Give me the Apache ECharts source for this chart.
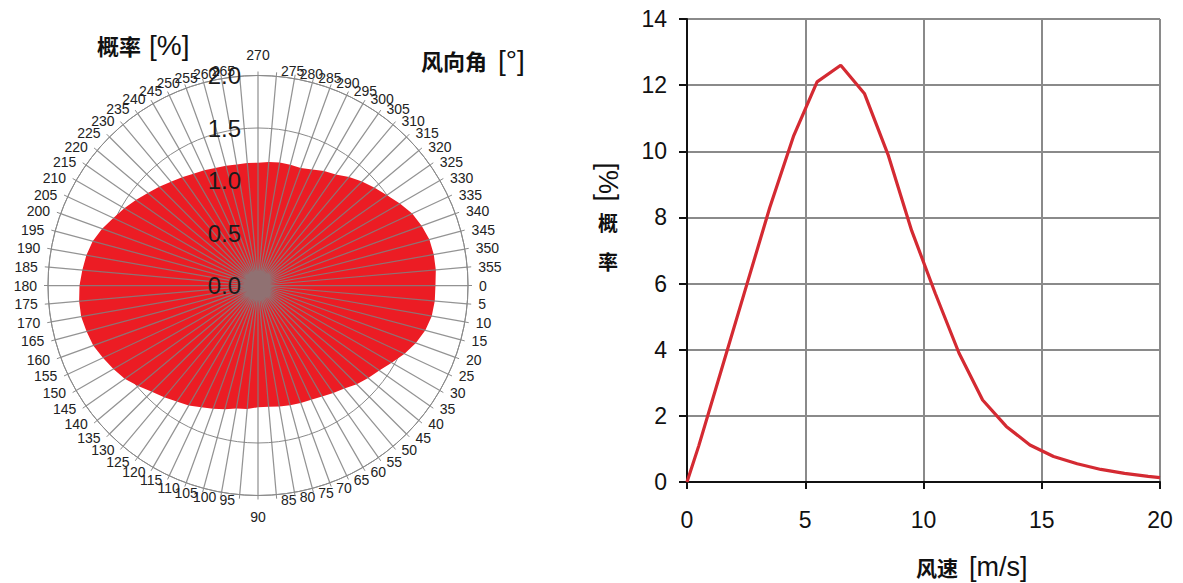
<!DOCTYPE html>
<html>
<head>
<meta charset="utf-8">
<script src="https://cdn.jsdelivr.net/npm/echarts@6/dist/echarts.min.js"></script>
<style>
  html, body { margin: 0; padding: 0; background: #ffffff; }
  #chart { width: 1183px; height: 583px; }
</style>
</head>
<body>
<div id="chart"></div>
<script>
// Wind direction sectors [°], clockwise from east
const directions = [
  0, 5, 10, 15, 20, 25, 30, 35, 40, 45, 50, 55,
  60, 65, 70, 75, 80, 85, 90, 95, 100, 105, 110, 115,
  120, 125, 130, 135, 140, 145, 150, 155, 160, 165, 170, 175,
  180, 185, 190, 195, 200, 205, 210, 215, 220, 225, 230, 235,
  240, 245, 250, 255, 260, 265, 270, 275, 280, 285, 290, 295,
  300, 305, 310, 315, 320, 325, 330, 335, 340, 345, 350, 355
];
// Probability of each direction sector [%]
const directionProb = [
  1.69, 1.69, 1.68, 1.65, 1.60, 1.54, 1.47, 1.41, 1.37, 1.33, 1.28, 1.25,
  1.22, 1.20, 1.19, 1.18, 1.17, 1.16, 1.16, 1.18, 1.19, 1.22, 1.25, 1.28,
  1.32, 1.35, 1.39, 1.43, 1.49, 1.55, 1.59, 1.63, 1.67, 1.69, 1.71, 1.71,
  1.70, 1.68, 1.66, 1.63, 1.58, 1.52, 1.47, 1.42, 1.37, 1.33, 1.29, 1.26,
  1.23, 1.21, 1.19, 1.18, 1.17, 1.17, 1.17, 1.18, 1.19, 1.19, 1.19, 1.22,
  1.26, 1.29, 1.35, 1.40, 1.45, 1.50, 1.56, 1.62, 1.66, 1.69, 1.70, 1.70
];
const radiusTicks = [0, 0.5, 1.0, 1.5, 2.0];

// Wind speed distribution
const windSpeed = [0, 0.5, 1.5, 2.5, 3.5, 4.5, 5.5, 6.5, 7.5, 8.5, 9.5,
  10.5, 11.5, 12.5, 13.5, 14.5, 15.5, 16.5, 17.5, 18.5, 19.5, 20];
const speedProb = [0, 1.1, 3.5, 5.9, 8.3, 10.45, 12.1, 12.6, 11.75, 9.9, 7.6,
  5.7, 3.9, 2.48, 1.68, 1.12, 0.77, 0.55, 0.38, 0.26, 0.17, 0.13];
const speedTicks = [0, 5, 10, 15, 20];
const probTicks = [0, 2, 4, 6, 8, 10, 12, 14];

const polarData = directions.map((d, i) => [directionProb[i], d]);
polarData.push([directionProb[0], 360]); // close the outline
const lineData = windSpeed.map((v, i) => [v, speedProb[i]]);

const LATIN = '"Liberation Sans", Arial, sans-serif';
const CJK = '"Noto Sans CJK SC", sans-serif';
const GRID_GREY = '#8a8a8a';

// Rose geometry
const ROSE_R = 210;
const LABEL_MARGIN = -14;
const LABEL_SIZE = 14;

// Direction labels sit beside the ring (left/right of it), except straight
// up/down where they are centred. ECharts anchors angle labels by quadrant,
// so each label gets its own padding to land at that spot.
function directionLabelRich() {
  const rich = {};
  const rp = ROSE_R + LABEL_MARGIN;
  const digitW = LABEL_SIZE * 0.556;
  const h = LABEL_SIZE;
  directions.forEach(d => {
    const a = d * Math.PI / 180;
    const cos = Math.cos(a), sin = Math.sin(a);
    const w = String(d).length * digitW;
    const px = rp * cos, py = rp * sin;          // anchor used by ECharts
    const rx = ROSE_R * cos, ry = ROSE_R * sin;  // point on the ring
    let cx, cy;                                   // wanted glyph centre
    if (Math.abs(cos) < 1e-6) {
      cx = 0;
      cy = ry + (sin > 0 ? 21 : -21);
    } else {
      const gap = 4 + 7 * Math.abs(cos);
      cx = rx + Math.sign(cos) * (gap + w / 2);
      cy = ry + 5 * sin;
    }
    const hAlign = Math.abs(px) / ROSE_R < 0.3 ? 'center' : (px > 0 ? 'left' : 'right');
    const vAlign = Math.abs(py) / ROSE_R < 0.3 ? 'middle' : (py > 0 ? 'top' : 'bottom');
    const dx = cx - px, dy = cy - py;
    let pl = 0, pr = 0, pt = 0, pb = 0;
    if (hAlign === 'left') pl = dx - w / 2;
    else if (hAlign === 'right') pr = -dx - w / 2;
    else if (dx > 0) pl = 2 * dx; else pr = -2 * dx;
    if (vAlign === 'top') pt = dy - h / 2;
    else if (vAlign === 'bottom') pb = -dy - h / 2;
    else if (dy > 0) pt = 2 * dy; else pb = -2 * dy;
    rich['d' + d] = {
      fontSize: LABEL_SIZE, fontFamily: LATIN, color: '#222',
      padding: [Math.max(0, pt), Math.max(0, pr), Math.max(0, pb), Math.max(0, pl)]
    };
  });
  return rich;
}

const chart = echarts.init(document.getElementById('chart'), null, { renderer: 'svg' });

chart.setOption({
  animation: false,
  backgroundColor: '#ffffff',
  polar: [
    { center: [258, 285.5], radius: ROSE_R },
    { center: [258, 285.5], radius: ROSE_R }
  ],
  angleAxis: [
    {
      polarIndex: 0,
      type: 'value',
      min: 0, max: 360, interval: 5,
      startAngle: 0, clockwise: true,
      z: 3,
      axisLine: { lineStyle: { color: GRID_GREY, width: 1 } },
      axisTick: { show: true, length: 4, lineStyle: { color: GRID_GREY } },
      axisLabel: {
        margin: LABEL_MARGIN, fontSize: LABEL_SIZE, color: '#222', fontFamily: LATIN,
        formatter: v => (v >= 360 ? '' : '{d' + v + '|' + v + '}'),
        rich: directionLabelRich()
      },
      splitLine: { show: true, lineStyle: { color: 'rgba(128,128,128,0.85)', width: 1.25 } }
    },
    { polarIndex: 1, type: 'value', min: 0, max: 360, startAngle: 90, show: false }
  ],
  radiusAxis: [
    {
      polarIndex: 0,
      type: 'value', min: 0, max: 2, interval: 0.5,
      z: 0,
      axisLine: { show: false }, axisTick: { show: false }, axisLabel: { show: false },
      splitLine: { show: true, lineStyle: { color: GRID_GREY, width: 1 } }
    },
    {
      polarIndex: 1,
      type: 'value', min: 0, max: 2, interval: 0.5,
      z: 6,
      axisLine: { show: false }, axisTick: { show: false }, splitLine: { show: false },
      axisLabel: {
        margin: 17, fontSize: 24, color: '#1a1a1a', fontFamily: LATIN,
        formatter: v => (radiusTicks.indexOf(v) >= 0 ? v.toFixed(1) : '')
      }
    }
  ],
  grid: { left: 687, right: 23, top: 19, bottom: 101, containLabel: false },
  xAxis: {
    type: 'value', min: 0, max: 20, interval: 5,
    axisLine: { lineStyle: { color: '#111', width: 2 } },
    axisTick: { show: true, length: 7, lineStyle: { color: '#111', width: 2 } },
    axisLabel: {
      margin: 26, fontSize: 23, color: '#111', fontFamily: LATIN,
      formatter: v => (speedTicks.indexOf(v) >= 0 ? String(v) : '')
    },
    splitLine: { show: true, lineStyle: { color: GRID_GREY, width: 2 } }
  },
  yAxis: {
    type: 'value', min: 0, max: 14, interval: 2,
    axisLine: { show: true, lineStyle: { color: '#111', width: 2 } },
    axisTick: { show: true, length: 8, lineStyle: { color: '#111', width: 2 } },
    axisLabel: {
      margin: 20, fontSize: 23, color: '#111', fontFamily: LATIN,
      formatter: v => (probTicks.indexOf(v) >= 0 ? String(v) : '')
    },
    splitLine: { show: true, lineStyle: { color: GRID_GREY, width: 2 } }
  },
  series: [
    {
      type: 'line',
      coordinateSystem: 'polar',
      polarIndex: 0,
      z: 1,
      data: polarData,
      symbol: 'none',
      lineStyle: { width: 0, color: '#ec1c24' },
      areaStyle: { color: '#ec1c24', opacity: 1 },
      silent: true
    },
    {
      type: 'line',
      xAxisIndex: 0, yAxisIndex: 0,
      z: 5,
      data: lineData,
      symbol: 'none',
      lineStyle: { width: 3.2, color: '#d42a32' },
      silent: true
    }
  ],
  graphic: [
    {
      type: 'text', x: 97, y: 45,
      style: {
        text: '{a|概率}{b|[%]}', textVerticalAlign: 'middle', fill: '#111',
        rich: {
          a: { font: 'bold 22px ' + CJK, fill: '#111' },
          b: { font: '28px ' + LATIN, fill: '#111', padding: [0, 0, 0, 8] }
        }
      }
    },
    {
      type: 'text', x: 421, y: 60,
      style: {
        text: '{a|风向角}{b|[°]}', textVerticalAlign: 'middle', fill: '#111',
        rich: {
          a: { font: 'bold 22px ' + CJK, fill: '#111' },
          b: { font: '28px ' + LATIN, fill: '#111', padding: [0, 0, 0, 11] }
        }
      }
    },
    {
      type: 'text', x: 916, y: 567,
      style: {
        text: '{a|风速}{b|[m/s]}', textVerticalAlign: 'middle', fill: '#111',
        rich: {
          a: { font: 'bold 21px ' + CJK, fill: '#111' },
          b: { font: '27px ' + LATIN, fill: '#111', padding: [0, 0, 0, 11] }
        }
      }
    },
    {
      type: 'text', x: 608, y: 182, rotation: -Math.PI / 2,
      style: {
        text: '[%]', font: '27px ' + LATIN, fill: '#111',
        textAlign: 'center', textVerticalAlign: 'middle'
      }
    },
    {
      type: 'text', x: 608, y: 222,
      style: {
        text: '概', font: 'bold 20px ' + CJK, fill: '#111',
        textAlign: 'center', textVerticalAlign: 'middle'
      }
    },
    {
      type: 'text', x: 608, y: 261,
      style: {
        text: '率', font: 'bold 20px ' + CJK, fill: '#111',
        textAlign: 'center', textVerticalAlign: 'middle'
      }
    }
  ]
});
</script>
</body>
</html>
